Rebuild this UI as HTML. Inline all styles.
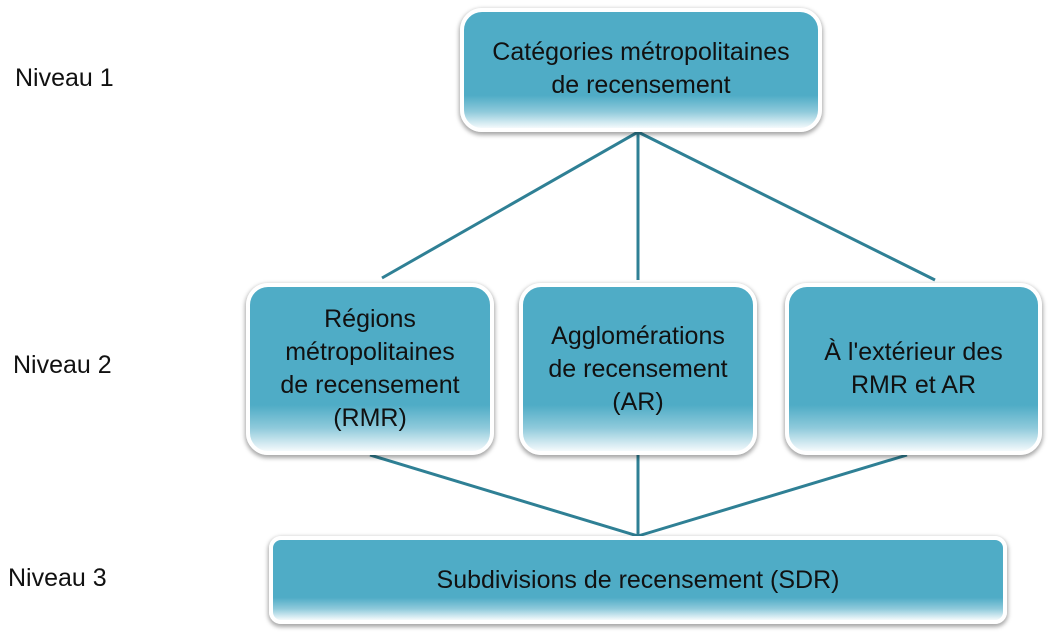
<!DOCTYPE html>
<html><head><meta charset="utf-8"><style>
body{margin:0;width:1051px;height:639px;background:#fff;position:relative;overflow:hidden;font-family:"Liberation Sans","DejaVu Sans",sans-serif;}
.b{position:absolute;box-sizing:border-box;border:4px solid #fff;border-radius:22px;
background:linear-gradient(to bottom,#4facc6 0%,#4facc6 72%,#8fcadb 86%,#f4fafc 100%);
box-shadow:0 2px 4px 1px rgba(0,0,0,0.35);display:flex;align-items:center;justify-content:center;text-align:center;
font-size:25px;line-height:33px;color:#111;padding-bottom:0}
.l{position:absolute;font-size:25px;color:#111}
</style></head><body>
<svg width="1051" height="639" style="position:absolute;left:0;top:0">
<g stroke="#2f8095" stroke-width="3" fill="none">
<line x1="638" y1="132" x2="382" y2="278"/>
<line x1="638" y1="132" x2="638" y2="280"/>
<line x1="638" y1="132" x2="935" y2="280"/>
<line x1="370" y1="455" x2="638" y2="536"/>
<line x1="638" y1="455" x2="638" y2="536"/>
<line x1="907" y1="455" x2="638" y2="536"/>
</g></svg>
<div class="l" style="left:15px;top:64px">Niveau 1</div>
<div class="l" style="left:13px;top:351px">Niveau 2</div>
<div class="l" style="left:8px;top:564px">Niveau 3</div>
<div class="b" style="left:460px;top:8px;width:362px;height:124px;padding-bottom:2px">Catégories métropolitaines<br>de recensement</div>
<div class="b" style="left:246px;top:283px;width:248px;height:172px">Régions<br>métropolitaines<br>de recensement<br>(RMR)</div>
<div class="b" style="left:519px;top:283px;width:238px;height:172px">Agglomérations<br>de recensement<br>(AR)</div>
<div class="b" style="left:785px;top:283px;width:257px;height:172px">À l'extérieur des<br>RMR et AR</div>
<div class="b" style="left:269px;top:536px;width:738px;height:88px;border-radius:12px">Subdivisions de recensement (SDR)</div>
</body></html>
